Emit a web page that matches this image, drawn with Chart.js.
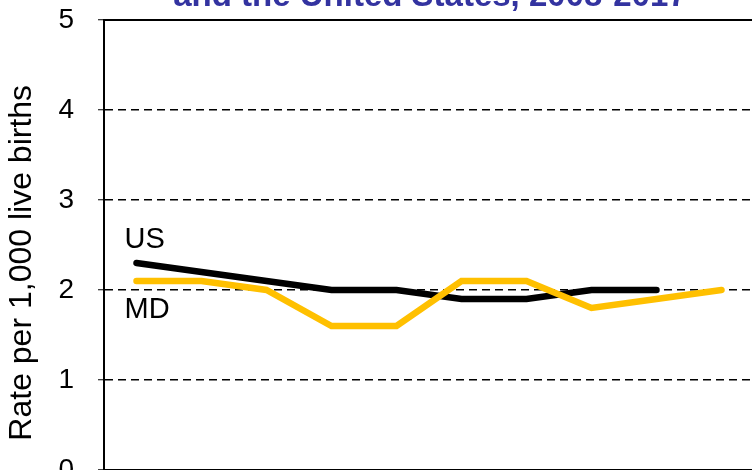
<!DOCTYPE html>
<html>
<head>
<meta charset="utf-8">
<script src="https://cdn.jsdelivr.net/npm/chart.js@4.4.1/dist/chart.umd.min.js"></script>
<style>
  html, body { margin: 0; padding: 0; background: #fff; overflow: hidden; width: 752px; height: 470px; }
  #wrap { position: absolute; left: 0; top: -40px; width: 860px; height: 600px; }
</style>
</head>
<body>
<div id="wrap"><canvas id="c"></canvas></div>
<script>
const years = ['2008','2009','2010','2011','2012','2013','2014','2015','2016','2017'];
const usRates = [2.3, 2.2, 2.1, 2.0, 2.0, 1.9, 1.9, 2.0, 2.0, null];
const mdRates = [2.1, 2.1, 2.0, 1.6, 1.6, 2.1, 2.1, 1.8, 1.9, 2.0];
const yTicks = [0, 1, 2, 3, 4, 5];
const titleLines = ['and the United States, 2008-2017'];
const yTitle = 'Rate per 1,000 live births    ';
const seriesNames = ['US', 'MD'];

const FONT = "'Liberation Sans', Arial, sans-serif";

const seriesLabels = {
  id: 'seriesLabels',
  afterDatasetsDraw(chart) {
    const ctx = chart.ctx;
    ctx.save();
    ctx.font = '29px ' + FONT;
    ctx.fillStyle = '#000';
    ctx.textAlign = 'left';
    ctx.textBaseline = 'middle';
    const offs = [-23, 29];
    chart.data.datasets.forEach((ds, i) => {
      const p = chart.getDatasetMeta(i).data[0];
      ctx.fillText(ds.label, p.x - 12, p.y + offs[i]);
    });
    ctx.restore();
  }
};

new Chart(document.getElementById('c'), {
  type: 'line',
  data: {
    labels: years,
    datasets: [
      { label: seriesNames[0], data: usRates, borderColor: '#000000', backgroundColor: '#000000',
        borderWidth: 6.5, pointRadius: 0, tension: 0, order: 1, borderCapStyle: 'round' },
      { label: seriesNames[1], data: mdRates, borderColor: '#FFC000', backgroundColor: '#FFC000',
        borderWidth: 6.5, pointRadius: 0, tension: 0, order: 0, borderCapStyle: 'round' }
    ]
  },
  options: {
    responsive: true,
    maintainAspectRatio: false,
    animation: false,
    layout: { padding: 0 },
    plugins: {
      legend: { display: false },
      tooltip: { enabled: false },
      title: {
        display: true,
        text: titleLines,
        color: '#3333A0',
        font: { family: FONT, size: 33, weight: 'bold', lineHeight: 1.2 },
        padding: { top: 17.5, bottom: 2.9 }
      }
    },
    scales: {
      x: {
        offset: true,
        grid: { display: false },
        border: { display: true, color: '#000', width: 2 },
        ticks: { color: '#000', font: { family: FONT, size: 28 } },
        afterFit(s) { s.height = 90; }
      },
      xTop: {
        position: 'top',
        offset: true,
        grid: { display: false },
        ticks: { display: false },
        border: { display: true, color: '#000', width: 2 },
        afterFit(s) { s.height = 0; }
      },
      y: {
        min: 0, max: 5,
        afterBuildTicks(s) { s.ticks = yTicks.map(v => ({ value: v })); },
        ticks: { color: '#000', font: { family: FONT, size: 28 }, padding: 24 },
        grid: {
          color: (c) => (c.tick && (c.tick.value === 0 || c.tick.value === 5)) ? 'rgba(0,0,0,0)' : '#000',
          lineWidth: 1.5,
          tickLength: 6,
          tickColor: '#000',
          tickBorderDash: [],
          tickWidth: 1
        },
        border: { display: true, color: '#000', width: 2, dash: [8, 5] },
        title: {
          display: true,
          text: yTitle,
          color: '#000',
          font: { family: FONT, size: 32 },
          padding: { top: 3.3, bottom: 4 }
        },
        afterFit(s) { s.width = 104; }
      },
      yRight: {
        position: 'right',
        min: 0, max: 5,
        ticks: { display: false },
        grid: { display: false },
        border: { display: false },
        afterFit(s) { s.width = 106; }
      }
    }
  },
  plugins: [seriesLabels]
});
</script>
</body>
</html>
